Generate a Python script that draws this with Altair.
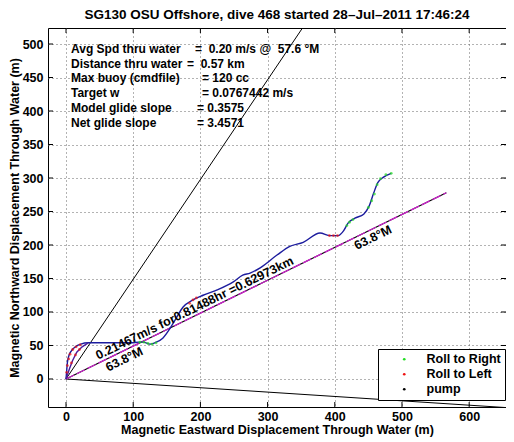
import altair as alt
import pandas as pd

title_text = "SG130 OSU Offshore, dive 468 started 28\u2013Jul\u20132011 17:46:24"
x_title = "Magnetic Eastward Displacement Through Water (m)"
y_title = "Magnetic Northward Displacement Through Water (m)"

x_ticks = [0, 100, 200, 300, 400, 500, 600]
y_ticks = [0, 50, 100, 150, 200, 250, 300, 350, 400, 450, 500]

# glider track (through-water displacement)
track_x = [0, 1, 2, 4, 8, 14, 22, 33, 50, 65, 80, 98, 108, 115, 125, 132, 144, 155, 164, 174,
           189, 204, 225, 249, 263, 274, 289, 314, 333, 353, 378, 393, 405, 413, 420, 430, 443,
           451, 458, 464, 472, 484]
track_y = [0, 12, 24, 34, 42, 48, 52, 54, 54, 54, 54, 54, 55, 55, 52, 54, 61, 76, 91, 107,
           118, 125, 133, 145, 155, 158, 166, 185, 198, 204, 218, 214, 214, 221, 233, 240, 246,
           258, 278, 293, 301, 307]
track2_x = [0, 5, 10, 16, 24, 33]
track2_y = [0, 15, 28, 40, 48, 54]

# roll events
right_x = [110, 116, 122, 128, 134, 418, 422, 427, 450, 455, 459, 463, 468, 476, 484]
right_y = [55, 55, 53, 52, 54, 229, 234, 238, 256, 266, 276, 290, 299, 305, 307]
left_x = [1, 2, 4, 6, 10, 15, 21, 8, 14, 20, 184, 189, 194, 392, 398, 404]
left_y = [10, 20, 30, 37, 44, 48, 51, 24, 36, 44, 113, 118, 121, 214, 214, 214]

# reference lines
steep_x = [0, 352]
steep_y = [0, 524]
shallow_x = [0, 660]
shallow_y = [0, -43]
head_x = [0, 566]
head_y = [0, 278]

legend_names = ["Roll to Right", "Roll to Left", "pump"]
legend_colors = ["#22dd22", "#ee1111", "#000000"]

NB = "\u00a0"
info_labels = ["Avg Spd thru water", "Distance thru water", "Max buoy (cmdfile)",
               "Target w", "Model glide slope", "Net glide slope"]
info_values = ["=" + NB * 2 + "0.20 m/s @" + NB * 2 + "57.6 \u00b0M", "=" + NB * 2 + "0.57 km",
               "= 120 cc", "= 0.0767442 m/s", "= 0.3575", "= 3.4571"]

speed_label = "0.21467m/s for0.81488hr =0.62973km"
heading_label = "63.8\u00b0M"

FONT = "Liberation Sans"
W, H = 458, 379
xs = alt.Scale(domain=[-26.8, 654.8], nice=False, zero=False)
ys = alt.Scale(domain=[-41.8, 523.9], nice=False, zero=False)

xaxis = alt.Axis(values=x_ticks, grid=True, gridDash=[1, 3], gridColor="#666", gridWidth=1,
                 domain=False, ticks=False, labelFontWeight="bold", labelFontSize=12.5,
                 labelFont=FONT, labelColor="black", labelPadding=3, labelFlush=False,
                 title=x_title, titleFont=FONT, titleFontSize=12.5, titleFontWeight="bold",
                 titleColor="black", titlePadding=1)
yaxis = alt.Axis(values=y_ticks, grid=True, gridDash=[1, 3], gridColor="#666", gridWidth=1,
                 domain=False, ticks=False, labelFontWeight="bold", labelFontSize=12.5,
                 labelFont=FONT, labelColor="black", labelPadding=5, labelFlush=False,
                 title=y_title, titleFont=FONT, titleFontSize=12.5, titleFontWeight="bold",
                 titleColor="black", titlePadding=1)


def X(f="x"):
    return alt.X(f + ":Q", scale=xs, axis=xaxis)


def Y(f="y"):
    return alt.Y(f + ":Q", scale=ys, axis=yaxis)


layers = []

# inward tick marks on all four sides
xt = pd.DataFrame({"x": x_ticks})
yt = pd.DataFrame({"y": y_ticks})
layers.append(alt.Chart(xt).mark_rule(color="black").encode(x=X(), y=alt.value(H), y2=alt.value(H - 5)))
layers.append(alt.Chart(xt).mark_rule(color="black").encode(x=X(), y=alt.value(0), y2=alt.value(5)))
layers.append(alt.Chart(yt).mark_rule(color="black").encode(y=Y(), x=alt.value(0), x2=alt.value(5)))
layers.append(alt.Chart(yt).mark_rule(color="black").encode(y=Y(), x=alt.value(W), x2=alt.value(W - 5)))

# black reference lines
for lx, ly in [(steep_x, steep_y), (shallow_x, shallow_y)]:
    d = pd.DataFrame({"x": lx, "y": ly})
    layers.append(alt.Chart(d).mark_line(color="black", strokeWidth=1, clip=True).encode(x=X(), y=Y()))

# heading line (black under magenta dashes)
hd = pd.DataFrame({"x": head_x, "y": head_y})
layers.append(alt.Chart(hd).mark_line(color="black", strokeWidth=1.1, clip=True).encode(x=X(), y=Y()))
layers.append(alt.Chart(hd).mark_line(color="#cc22cc", strokeWidth=1.3, strokeDash=[9, 3], clip=True)
              .encode(x=X(), y=Y()))

# track
td = pd.DataFrame({"x": track_x, "y": track_y, "o": list(range(len(track_x)))})
layers.append(alt.Chart(td).mark_line(color="#1c1c9e", strokeWidth=1.4, clip=True, interpolate="monotone")
              .encode(x=X(), y=Y(), order="o:Q"))
td2 = pd.DataFrame({"x": track2_x, "y": track2_y, "o": list(range(len(track2_x)))})
layers.append(alt.Chart(td2).mark_line(color="#4a1c9e", strokeWidth=1.4, clip=True)
              .encode(x=X(), y=Y(), order="o:Q"))

# roll points with legend
pts = pd.DataFrame({
    "x": right_x + left_x,
    "y": right_y + left_y,
    "kind": ["Roll to Right"] * len(right_x) + ["Roll to Left"] * len(left_x),
})
legend = alt.Legend(title=None, orient="none", legendX=330, legendY=321, strokeColor="black",
                    fillColor="white", padding=4, symbolSize=7, symbolType="circle",
                    symbolOffset=16, labelOffset=16, labelFont=FONT, labelFontSize=12.5,
                    labelFontWeight="bold", labelColor="black", rowPadding=2, cornerRadius=0,
                    symbolStrokeWidth=0, symbolOpacity=1)
layers.append(alt.Chart(pts).mark_circle(size=8, opacity=0.7, clip=True).encode(
    x=X(), y=Y(),
    color=alt.Color("kind:N", scale=alt.Scale(domain=legend_names, range=legend_colors), legend=legend)))

# labels along heading line
sl = pd.DataFrame({"x": [50], "y": [24.6], "t": [speed_label]})
layers.append(alt.Chart(sl).mark_text(font=FONT, fontSize=12.5, fontWeight="bold", align="left",
                                       baseline="alphabetic", angle=333.9, dy=-3, color="black")
              .encode(x=X(), y=Y(), text="t:N"))
hl = pd.DataFrame({"x": [55, 425], "y": [27.0, 208.7], "t": [heading_label, heading_label]})
layers.append(alt.Chart(hl).mark_text(font=FONT, fontSize=12.5, fontWeight="bold", align="left",
                                       baseline="top", angle=333.9, dy=2, color="black")
              .encode(x=X(), y=Y(), text="t:N"))

# info text block
value_px = [147, 139, 154, 154, 149, 149]
for i, (lab, val) in enumerate(zip(info_labels, info_values)):
    py = 25 + 14.7 * i
    layers.append(alt.Chart(pd.DataFrame({"t": [lab]})).mark_text(
        font=FONT, fontSize=12, fontWeight="bold", align="left", baseline="alphabetic", color="black")
        .encode(x=alt.value(23), y=alt.value(py), text="t:N"))
    layers.append(alt.Chart(pd.DataFrame({"t": [val]})).mark_text(
        font=FONT, fontSize=12, fontWeight="bold", align="left", baseline="alphabetic", color="black")
        .encode(x=alt.value(value_px[i]), y=alt.value(py), text="t:N"))

chart = alt.layer(*layers).properties(
    width=W, height=H,
    title=alt.Title(title_text, font=FONT, fontSize=13.5, fontWeight="bold", color="black",
                    anchor="middle", offset=6),
    autosize=alt.AutoSizeParams(type="none"),
    padding={"left": 40, "top": 20, "right": 0, "bottom": 30},
).configure_view(stroke="black", strokeWidth=1)

chart.save("out.html", embed_options={"renderer": "svg", "actions": False})
